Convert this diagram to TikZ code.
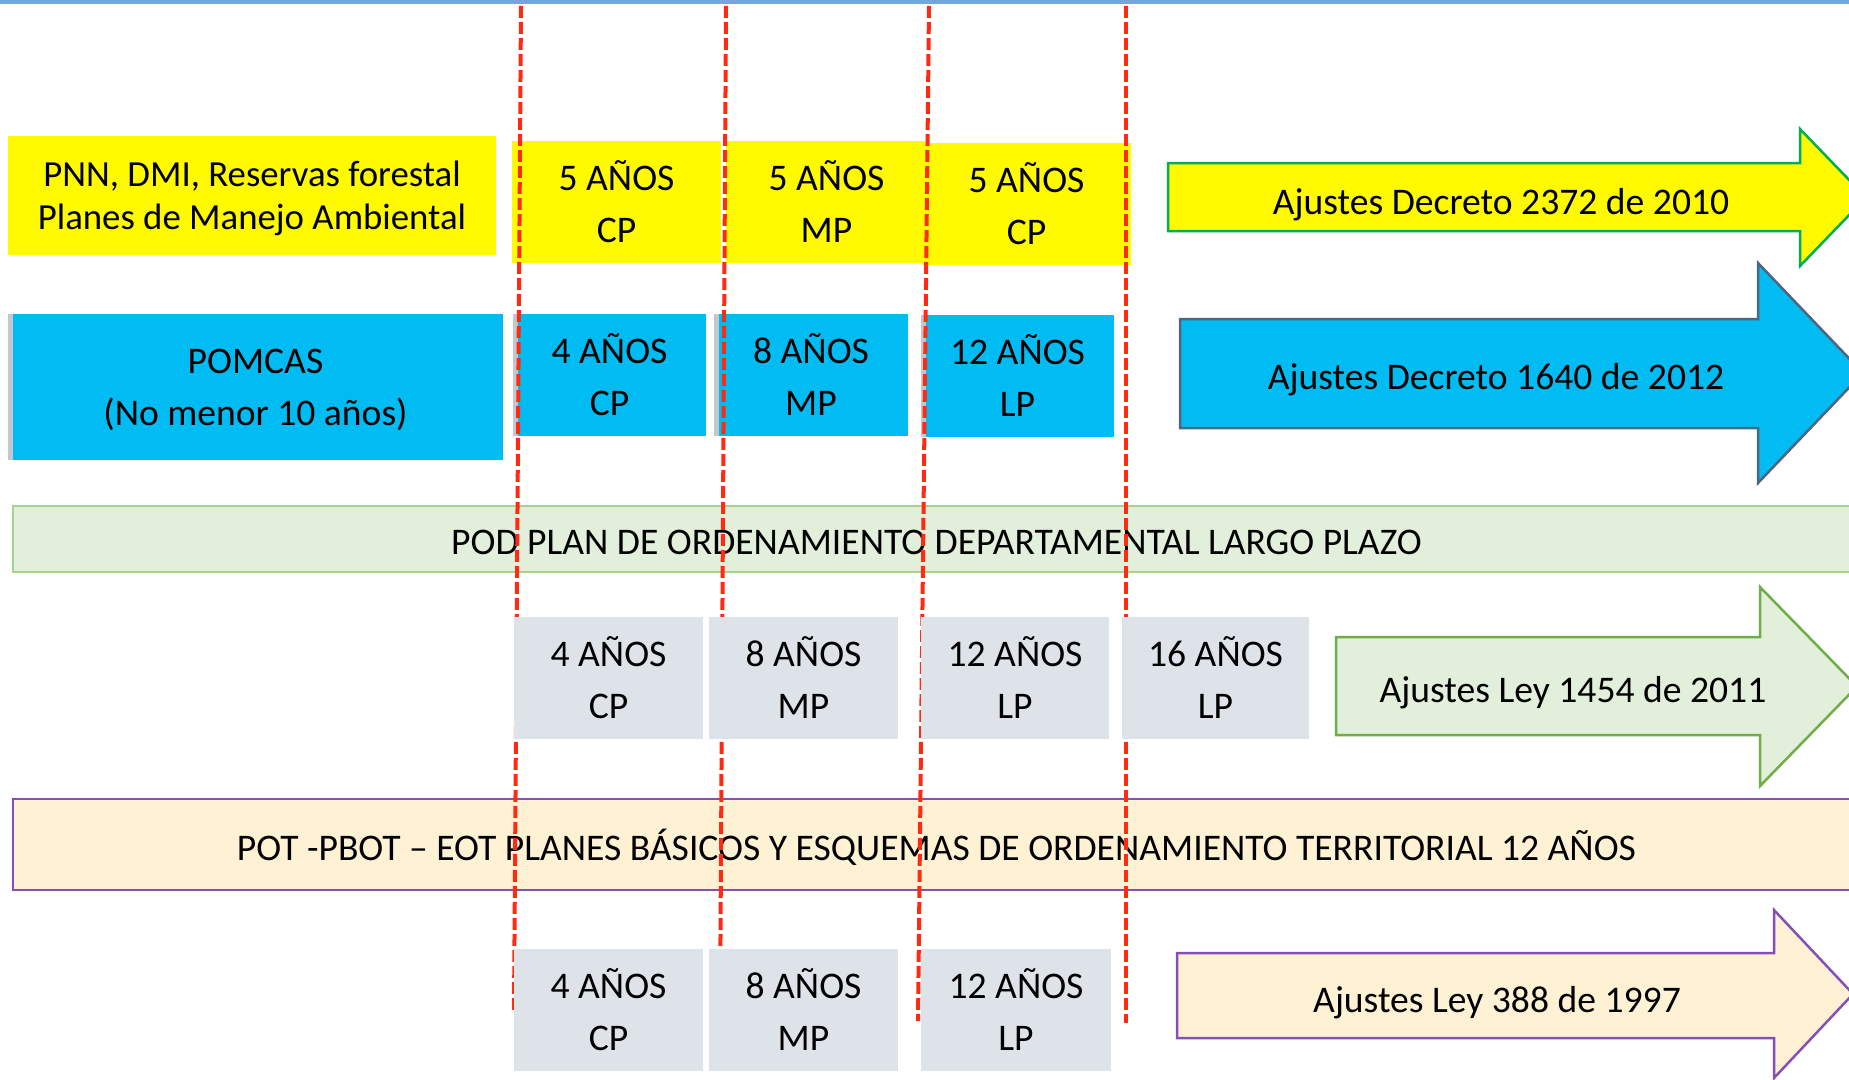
\documentclass[tikz,border=0pt]{standalone}
\usepackage{fontspec}
\setmainfont{Carlito}
\usetikzlibrary{positioning,calc}

\definecolor{amarillo}{HTML}{FFFA00}
\definecolor{celeste}{HTML}{00BCF2}
\definecolor{gris}{HTML}{DEE2E9}
\definecolor{grisborde}{HTML}{C3C8D0}
\definecolor{verdeclaro}{HTML}{E2EFDA}
\definecolor{verdeborde}{HTML}{A9D18E}
\definecolor{verdeflecha}{HTML}{70AD47}
\definecolor{verdelinea}{HTML}{00B050}
\definecolor{crema}{HTML}{FFF2D4}
\definecolor{morado}{HTML}{8450B5}
\definecolor{azulgris}{HTML}{50647F}
\definecolor{rojo}{HTML}{FF2A12}
\definecolor{azulbarra}{HTML}{6FA8DC}

\tikzset{
  txt/.style={font=\fontsize{37.6}{52}\selectfont, align=center, inner sep=0pt},
  sinbajo/.style={text depth=0pt},
  ybox/.style={txt, rectangle, fill=amarillo},
  bbox/.style={txt, rectangle, fill=celeste,
    path picture={\fill[grisborde] (path picture bounding box.south west) rectangle ([xshift=5pt]path picture bounding box.north west);}},
  gbox/.style={txt, rectangle, fill=gris},
  barra/.style={txt, sinbajo, rectangle, line width=2pt},
  flecha/.style={line width=2.5pt, line join=miter},
  corte/.style={draw=rojo, line width=4pt, dash pattern=on 12pt off 4pt}
}

\begin{document}
\begin{tikzpicture}[x=1pt, y=-1pt]
  \useasboundingbox (0,0) rectangle (1849,1079);
  \clip (0,0) rectangle (1849,1079);
  \fill[azulbarra] (0,0) rectangle (1849,4);

  % Fila amarilla
  \node[ybox, sinbajo, minimum width=488pt, minimum height=119pt, font=\fontsize{36.8}{43}\selectfont] (pnn) at (252,195.5) {PNN, DMI, Reservas forestal\\Planes de Manejo Ambiental};
  \node[ybox, minimum width=209pt, minimum height=122pt] (y1) at (616.5,202) {5 AÑOS\\CP};
  \node[ybox, minimum width=201pt, minimum height=122pt] (y2) at (826.5,202) {5 AÑOS\\MP};
  \node[ybox, minimum width=209pt, minimum height=122pt] (y3) at (1026.5,204) {5 AÑOS\\CP};

  % Fila celeste
  \node[bbox, sinbajo, minimum width=495pt, minimum height=146pt] (pomcas) at (255.5,387) {POMCAS\\(No menor 10 años)};
  \node[bbox, minimum width=193pt, minimum height=122pt] (b1) at (609.5,375) {4 AÑOS\\CP};
  \node[bbox, minimum width=194pt, minimum height=122pt] (b2) at (811,375) {8 AÑOS\\MP};
  \node[bbox, minimum width=193pt, minimum height=122pt] (b3) at (1017.5,376) {12 AÑOS\\LP};

  % Barras
  \node[barra, text height=30pt, draw=verdeborde, fill=verdeclaro, minimum width=1847pt, minimum height=66pt] (pod) at (936.5,539) {POD PLAN DE ORDENAMIENTO DEPARTAMENTAL LARGO PLAZO};
  \node[barra, draw=morado, fill=crema, minimum width=1847pt, minimum height=91pt] (pot) at (936.5,844.5) {POT -PBOT – EOT PLANES BÁSICOS Y ESQUEMAS DE ORDENAMIENTO TERRITORIAL 12 AÑOS};

  % Flechas de ajustes
  \draw[flecha, draw=verdelinea, fill=amarillo] (1168,163) -- (1800,163) -- (1800,129) -- (1866,197.5) -- (1800,266) -- (1800,231) -- (1168,231) -- cycle;
  \node[txt, sinbajo] (a1) at (1501,201) {Ajustes Decreto 2372 de 2010};
  \draw[flecha, draw=azulgris, fill=celeste] (1180,319) -- (1758,319) -- (1758,263) -- (1863,373) -- (1758,483) -- (1758,428) -- (1180,428) -- cycle;
  \node[txt, sinbajo] (a2) at (1496,376.5) {Ajustes Decreto 1640 de 2012};
  \draw[flecha, draw=verdeflecha, fill=verdeclaro] (1336,637) -- (1760,637) -- (1760,587) -- (1857,686.5) -- (1760,786) -- (1760,735) -- (1336,735) -- cycle;
  \node[txt, sinbajo] (a3) at (1573,689.5) {Ajustes Ley 1454 de 2011};
  \draw[flecha, draw=morado, fill=crema] (1177,953) -- (1774,953) -- (1774,910) -- (1853,994) -- (1774,1078) -- (1774,1038) -- (1177,1038) -- cycle;
  \node[txt, sinbajo] (a4) at (1497,999) {Ajustes Ley 388 de 1997};

  % Cortes de plazo
  \coordinate (l1a) at (521,6);  \coordinate (l1b) at (514,1010);
  \coordinate (l2a) at (726,6);  \coordinate (l2b) at (720,1021);
  \coordinate (l3a) at (929,6);  \coordinate (l3b) at (918,1021);
  \coordinate (l4a) at (1126,6); \coordinate (l4b) at (1126,1023);
  \draw[corte] (l1a) -- (l1b);
  \draw[corte] (l2a) -- (l2b);
  \draw[corte] (l3a) -- (l3b);
  \draw[corte] (l4a) -- (l4b);

  % Filas grises
  \node[gbox, minimum width=189pt, minimum height=122pt] (g1) at (608.5,678) {4 AÑOS\\CP};
  \node[gbox, minimum width=189pt, minimum height=122pt] (g2) at (803.5,678) {8 AÑOS\\MP};
  \node[gbox, minimum width=188pt, minimum height=122pt] (g3) at (1015,678) {12 AÑOS\\LP};
  \node[gbox, minimum width=187pt, minimum height=122pt] (g4) at (1215.5,678) {16 AÑOS\\LP};
  \node[gbox, minimum width=189pt, minimum height=122pt] (h1) at (608.5,1010) {4 AÑOS\\CP};
  \node[gbox, minimum width=189pt, minimum height=122pt] (h2) at (803.5,1010) {8 AÑOS\\MP};
  \node[gbox, minimum width=190pt, minimum height=122pt] (h3) at (1016,1010) {12 AÑOS\\LP};
\end{tikzpicture}
\end{document}
